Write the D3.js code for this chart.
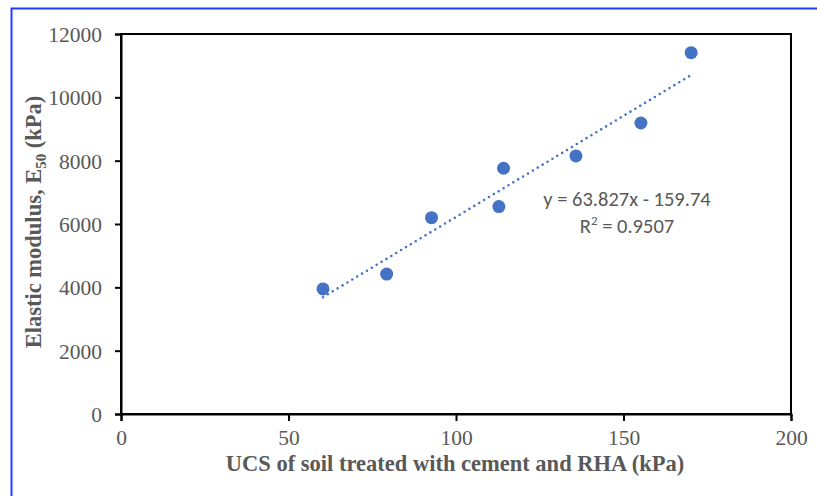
<!DOCTYPE html>
<html><head><meta charset="utf-8">
<script src="https://cdn.jsdelivr.net/npm/d3@7"></script>
<style>body{margin:0;background:#fff;}svg{display:block;}</style>
</head><body><svg id="c" width="817" height="496"></svg>
<script>
const ucs = [60.3, 79.3, 92.7, 112.8, 114.2, 135.8, 155.2, 170.2];
const e50 = [3950, 4420, 6200, 6550, 7760, 8150, 9190, 11410];
const xTicks = [0, 50, 100, 150, 200];
const yTicks = [0, 2000, 4000, 6000, 8000, 10000, 12000];
const slope = 63.827, intercept = -159.74;
const eqText = "y = 63.827x - 159.74";
const r2Text = "0.9507";

const svg = d3.select("#c");
const L = 121, R = 791, T = 34, B = 414;
const x = d3.scaleLinear().domain([0, 200]).range([L, R]);
const y = d3.scaleLinear().domain([0, 12000]).range([B, T]);

// outer blue frame
svg.append("rect").attr("x", 11.5).attr("y", 8.5).attr("width", 830).attr("height", 520)
  .attr("fill", "none").attr("stroke", "#1f3dff").attr("stroke-width", 2);

// plot frame
svg.append("rect").attr("x", L).attr("y", T).attr("width", R - L).attr("height", B - T)
  .attr("fill", "none").attr("stroke", "#000").attr("stroke-width", 2);

const serif = "'Liberation Serif','Times New Roman',serif";
const gx = svg.append("g").attr("transform", `translate(0,${B})`)
  .call(d3.axisBottom(x).tickValues(xTicks).tickSize(7).tickPadding(9).tickFormat(d3.format("d")));
const gy = svg.append("g").attr("transform", `translate(${L},0)`)
  .call(d3.axisLeft(y).tickValues(yTicks).tickSize(6).tickPadding(13).tickFormat(d3.format("d")));
[gx, gy].forEach(g => {
  g.select(".domain").attr("stroke", "#000").attr("stroke-width", 2);
  g.selectAll(".tick line").attr("stroke", "#000").attr("stroke-width", 2);
  g.selectAll(".tick text").attr("fill", "#595959")
    .style("font-family", serif).style("font-size", "21.5px");
});
gy.selectAll(".tick text").attr("dy", "0.35em");

// trendline
const xmin = d3.min(ucs), xmax = d3.max(ucs);
svg.append("line")
  .attr("x1", x(xmin)).attr("y1", y(slope * xmin + intercept))
  .attr("x2", x(xmax)).attr("y2", y(slope * xmax + intercept))
  .attr("stroke", "#4472c4").attr("stroke-width", 2.6)
  .attr("stroke-linecap", "round").attr("stroke-dasharray", "0 5.7");

// points
svg.append("g").selectAll("circle").data(ucs).join("circle")
  .attr("cx", d => x(d)).attr("cy", (d, i) => y(e50[i])).attr("r", 6.5)
  .attr("fill", "#4472c4");

// equation
const sans = "Carlito, Lato, 'Liberation Sans', sans-serif";
svg.append("text").attr("x", 627).attr("y", 206).attr("text-anchor", "middle")
  .attr("fill", "#595959").style("font-family", sans).style("font-size", "20.5px")
  .text(eqText);
const r2 = svg.append("text").attr("x", 627).attr("y", 233).attr("text-anchor", "middle")
  .attr("fill", "#595959").style("font-family", sans).style("font-size", "20.5px");
r2.append("tspan").text("R");
r2.append("tspan").attr("dy", -8).style("font-size", "13px").text("2");
r2.append("tspan").attr("dy", 8).text(" = " + r2Text);

// axis titles
svg.append("text").attr("x", 455).attr("y", 471).attr("text-anchor", "middle")
  .attr("fill", "#595959").style("font-family", serif)
  .style("font-size", "22.5px").style("font-weight", "bold")
  .text("UCS of soil treated with cement and RHA (kPa)");

const yt = svg.append("text").attr("transform", `translate(41,${(T + B) / 2 - 2}) rotate(-90)`)
  .attr("text-anchor", "middle").attr("fill", "#595959")
  .style("font-family", serif)
  .style("font-size", "22.5px").style("font-weight", "bold");
yt.append("tspan").text("Elastic modulus,  E");
yt.append("tspan").attr("dy", 5).style("font-size", "15px").text("50");
yt.append("tspan").attr("dy", -5).text(" (kPa)");
</script></body></html>
